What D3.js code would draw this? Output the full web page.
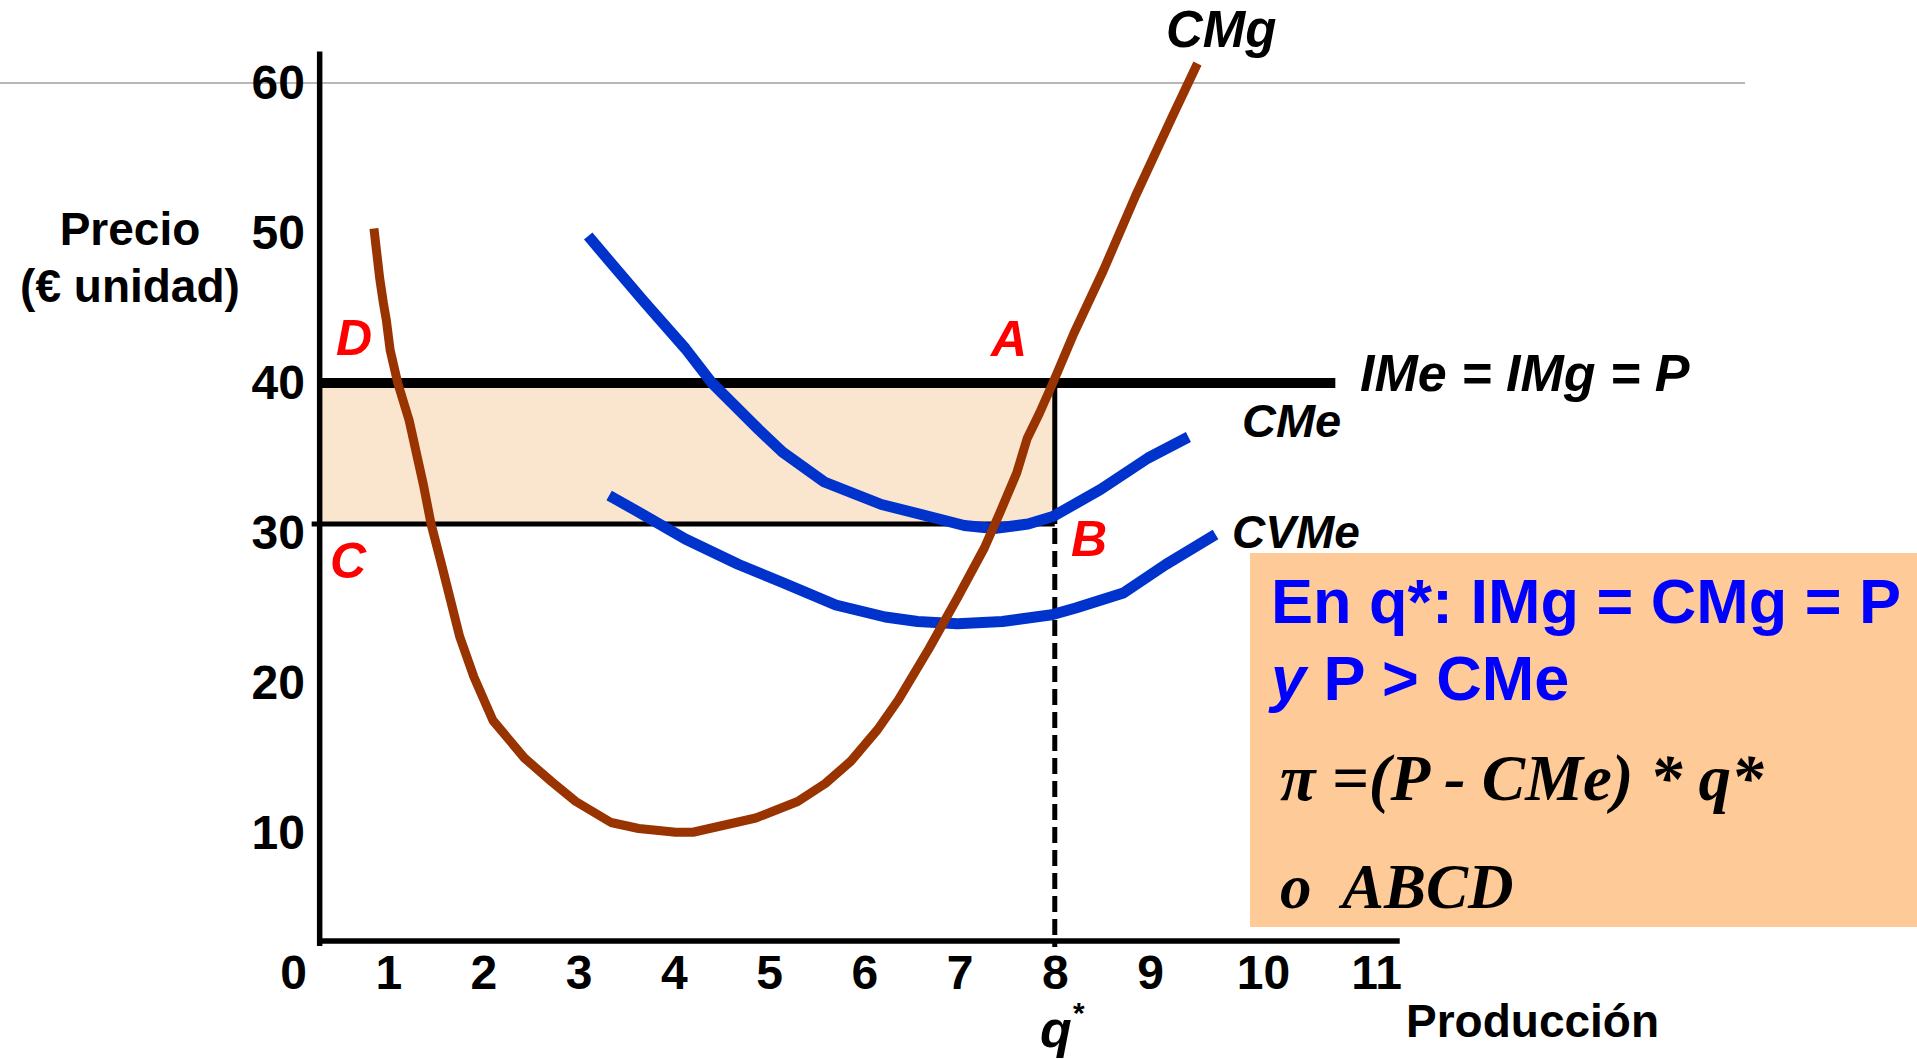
<!DOCTYPE html>
<html lang="es">
<head>
<meta charset="utf-8">
<title>Maximización del beneficio: IMg = CMg = P</title>
<script src="https://cdn.jsdelivr.net/npm/d3@7"></script>
<style>
  html, body { margin: 0; padding: 0; background: #ffffff; }
  svg { display: block; }
  .sans { font-family: "Liberation Sans", Arial, Helvetica, sans-serif; font-weight: bold; }
  .serif { font-family: "Liberation Serif", "Times New Roman", serif; font-weight: bold; font-style: italic; }
</style>
</head>
<body>
<svg id="chart" width="1917" height="1059"></svg>
<script>
// ---- Data ----------------------------------------------------------------
const xTicks = [0, 1, 2, 3, 4, 5, 6, 7, 8, 9, 10, 11];
const yTicks = [10, 20, 30, 40, 50, 60];

const price = 40;        // IMe = IMg = P
const qStar = 8;         // optimal output q*
const cmeAtQStar = 30.6; // average cost at q* (point B)
const priceLineEnd = 10.64;

// Marginal cost CMg: [quantity, cost]
const cmg = [
  [0.85, 50.3], [0.91, 47.0], [0.95, 45.3], [0.98, 44.2], [1.02, 42.2],
  [1.10, 40.0], [1.22, 37.5], [1.37, 33.2], [1.45, 30.6], [1.56, 27.9],
  [1.75, 23.1], [1.90, 20.4], [2.10, 17.5], [2.43, 15.0], [2.72, 13.4],
  [2.97, 12.1], [3.34, 10.7], [3.63, 10.3], [4.02, 10.05], [4.20, 10.05],
  [4.86, 11.0], [5.30, 12.1], [5.59, 13.3], [5.86, 14.8], [6.14, 16.9],
  [6.36, 18.9], [6.68, 22.3], [6.98, 25.7], [7.26, 29.0], [7.42, 31.3],
  [7.60, 34.0], [7.71, 36.3], [7.84, 38.0], [7.98, 40.0], [8.20, 43.3],
  [8.51, 47.5], [8.85, 52.5], [9.20, 57.8], [9.42, 61.3]
];

// Average total cost CMe
const cme = [
  [3.10, 49.8], [3.34, 48.0], [3.69, 45.4], [4.12, 42.3], [4.40, 40.0],
  [4.89, 36.9], [5.14, 35.4], [5.58, 33.4], [6.18, 31.9], [6.68, 31.1],
  [7.05, 30.5], [7.36, 30.3], [7.72, 30.6], [7.98, 31.1], [8.48, 32.9],
  [8.98, 35.0], [9.34, 36.4]
];

// Average variable cost CVMe
const cvme = [
  [3.32, 32.5], [3.60, 31.5], [4.12, 29.6], [4.68, 27.9], [5.14, 26.7],
  [5.70, 25.2], [6.22, 24.4], [6.56, 24.1], [6.98, 23.95], [7.45, 24.1],
  [7.97, 24.55], [8.22, 25.0], [8.72, 26.0], [9.14, 27.9], [9.58, 29.9]
];

// ---- Scales --------------------------------------------------------------
const x = d3.scaleLinear().domain([0, 9, 11]).range([293, 1150, 1376]);
const y = d3.scaleLinear().domain([0, 60]).range([983, 83]);

const axisQ = 0.28;   // quantity where the vertical axis stands
const axisP = 2.8;    // price where the horizontal axis stands
const axisX = x(axisQ);
const axisY = y(axisP);

const svg = d3.select("#chart");

const brown = "#993300";
const blue = "#0033cc";

// Light reference line at 60
svg.append("line")
  .attr("x1", 0).attr("x2", 1745)
  .attr("y1", y(60)).attr("y2", y(60))
  .attr("stroke", "#a0a0a0").attr("stroke-width", 1.5);

// Profit rectangle ABCD
svg.append("rect")
  .attr("x", axisX)
  .attr("y", y(price))
  .attr("width", x(qStar) - axisX)
  .attr("height", y(cmeAtQStar) - y(price))
  .attr("fill", "#fae5cf");

// Axes lines
svg.append("line")
  .attr("x1", axisX).attr("x2", axisX)
  .attr("y1", y(62.1)).attr("y2", axisY + 5)
  .attr("stroke", "#000").attr("stroke-width", 5.5);
svg.append("line")
  .attr("x1", axisX - 2).attr("x2", x(11.21))
  .attr("y1", axisY).attr("y2", axisY)
  .attr("stroke", "#000").attr("stroke-width", 5.5);

// Tick labels
const xAxis = d3.axisBottom(x).tickValues(xTicks).tickSize(0).tickPadding(14).tickFormat(d3.format("d"));
const gx = svg.append("g").attr("transform", `translate(0,${axisY})`).call(xAxis);
gx.select(".domain").remove();
gx.selectAll("text")
  .attr("class", "sans").attr("font-size", 48).attr("fill", "#000");

const yAxis = d3.axisLeft(y).tickValues(yTicks).tickSize(0).tickPadding(axisX - 305).tickFormat(d3.format("d"));
const gy = svg.append("g").attr("transform", `translate(${axisX},0)`).call(yAxis);
gy.select(".domain").remove();
gy.selectAll("text")
  .attr("class", "sans").attr("font-size", 48).attr("fill", "#000");
gx.attr("font-family", null).attr("font-size", null);
gy.attr("font-family", null).attr("font-size", null);

// Line C-B at average cost
svg.append("line")
  .attr("x1", axisX - 8).attr("x2", x(qStar))
  .attr("y1", y(cmeAtQStar)).attr("y2", y(cmeAtQStar))
  .attr("stroke", "#000").attr("stroke-width", 5);

// Vertical at q*: solid A-B, dashed below B
svg.append("line")
  .attr("x1", x(qStar)).attr("x2", x(qStar))
  .attr("y1", y(price)).attr("y2", y(cmeAtQStar))
  .attr("stroke", "#000").attr("stroke-width", 5);
svg.append("line")
  .attr("x1", x(qStar)).attr("x2", x(qStar))
  .attr("y1", y(cmeAtQStar) + 4).attr("y2", axisY + 6)
  .attr("stroke", "#000").attr("stroke-width", 5)
  .attr("stroke-dasharray", "16,7");

// Price line IMe = IMg = P
svg.append("line")
  .attr("x1", axisX).attr("x2", x(priceLineEnd))
  .attr("y1", y(price)).attr("y2", y(price))
  .attr("stroke", "#000").attr("stroke-width", 10);

// Cost curves
const line = d3.line().x(d => x(d[0])).y(d => y(d[1])).curve(d3.curveLinear);

svg.append("path").datum(cvme)
  .attr("d", line).attr("fill", "none")
  .attr("stroke", blue).attr("stroke-width", 11).attr("stroke-linejoin", "round");
svg.append("path").datum(cme)
  .attr("d", line).attr("fill", "none")
  .attr("stroke", blue).attr("stroke-width", 11).attr("stroke-linejoin", "round");
svg.append("path").datum(cmg)
  .attr("d", line).attr("fill", "none")
  .attr("stroke", brown).attr("stroke-width", 9).attr("stroke-linejoin", "round");

// Axis titles
svg.append("text").attr("class", "sans").attr("font-size", 46)
  .attr("x", 130).attr("y", 245).attr("text-anchor", "middle").text("Precio");
svg.append("text").attr("class", "sans").attr("font-size", 46)
  .attr("x", 130).attr("y", 302).attr("text-anchor", "middle").text("(€ unidad)");
svg.append("text").attr("class", "sans").attr("font-size", 46)
  .attr("x", 1406).attr("y", 1037).text("Producción");

const qLabel = svg.append("text").attr("class", "sans").attr("font-size", 52)
  .attr("font-style", "italic").attr("x", 1040).attr("y", 1047);
qLabel.append("tspan").text("q");
qLabel.append("tspan").attr("font-size", 30).attr("dy", -24).text("*");

// Curve labels
const curveLabel = (txt, lx, ly, size) =>
  svg.append("text").attr("class", "sans").attr("font-style", "italic")
    .attr("font-size", size).attr("x", lx).attr("y", ly).text(txt);
curveLabel("CMg", 1166, 47, 51);
curveLabel("IMe = IMg = P", 1360, 391, 52);
curveLabel("CMe", 1242, 437, 47);
curveLabel("CVMe", 1232, 548, 46);

// Corner letters of the profit area
const pointLabel = (txt, lx, ly) =>
  svg.append("text").attr("class", "sans").attr("font-style", "italic")
    .attr("font-size", 50).attr("fill", "#ff0000").attr("x", lx).attr("y", ly).text(txt);
pointLabel("A", 991, 356);
pointLabel("B", 1071, 556);
pointLabel("C", 330, 578);
pointLabel("D", 336, 355);

// Explanatory box
svg.append("rect")
  .attr("x", 1250).attr("y", 553).attr("width", 667).attr("height", 374)
  .attr("fill", "#fdca98");

svg.append("text").attr("class", "sans").attr("font-size", 63).attr("fill", "#0000ff")
  .attr("x", 1271).attr("y", 623).text("En q*: IMg = CMg = P");

const l2 = svg.append("text").attr("class", "sans").attr("font-size", 63).attr("fill", "#0000ff")
  .attr("x", 1271).attr("y", 700);
l2.append("tspan").attr("font-style", "italic").text("y");
l2.append("tspan").text(" P > CMe");

svg.append("text").attr("class", "serif").attr("font-size", 65).attr("fill", "#000")
  .attr("x", 1280).attr("y", 800).text("π =(P - CMe) * q*");

const l4 = svg.append("text").attr("class", "serif").attr("font-size", 63).attr("fill", "#000")
  .attr("y", 908);
l4.append("tspan").attr("x", 1280).text("o");
l4.append("tspan").attr("x", 1342).text("ABCD");
</script>
</body>
</html>
